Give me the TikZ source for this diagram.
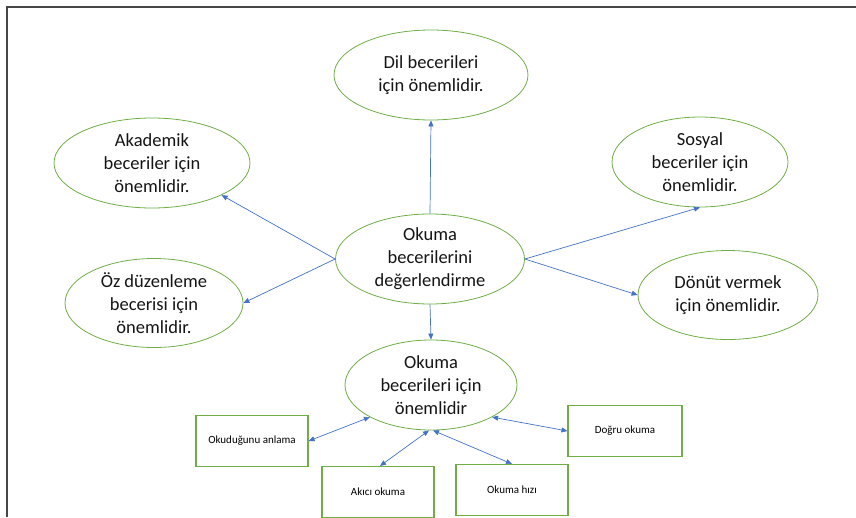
\documentclass[tikz,border=0pt]{standalone}
\usepackage{fontspec}
\setmainfont{Carlito}
\usetikzlibrary{shapes.geometric, arrows.meta}
\definecolor{officegreen}{RGB}{112,173,71}
\definecolor{officeblue}{RGB}{68,114,196}
\definecolor{framegray}{RGB}{70,70,70}

\begin{document}
\begin{tikzpicture}[x=1pt, y=-1pt,
      bubble/.style={ellipse, draw=officegreen, line width=0.8pt, inner sep=0pt,
        align=center, text=black!92, font=\fontsize{18.5}{23}\selectfont},
      smallbox/.style={rectangle, draw=officegreen, line width=1.1pt, inner sep=0pt,
        minimum width=112pt, minimum height=51pt, font=\fontsize{11}{13}\selectfont},
      oneway/.style={draw=officeblue, line width=0.7pt, -{Triangle[length=6pt,width=5pt]}},
      twoway/.style={draw=officeblue, line width=0.7pt,
        {Triangle[length=6pt,width=5pt]}-{Triangle[length=6pt,width=5pt]}}]

      \useasboundingbox (0,0) rectangle (856,517);
      \draw[framegray, line width=1.4pt] (7,517) -- (7,7) -- (856,7);

      % centre and the reasons round it
      \node[bubble, minimum width=189pt, minimum height=90pt] (center) at (430,259)
        {Okuma\\becerilerini\\değerlendirme};
      \node[bubble, minimum width=194pt, minimum height=90pt] (dil) at (431,75)
        {Dil becerileri\\için önemlidir.};
      \node[bubble, minimum width=196pt, minimum height=90pt] (akad) at (152,163)
        {Akademik\\beceriler için\\önemlidir.};
      \node[bubble, minimum width=178pt, minimum height=89pt] (oz) at (154,303)
        {Öz düzenleme\\becerisi için\\önemlidir.};
      \node[bubble, minimum width=176pt, minimum height=90pt] (sosyal) at (700,162)
        {Sosyal\\beceriler için\\önemlidir.};
      \node[bubble, minimum width=180pt, minimum height=89pt] (donut) at (728,295)
        {Dönüt vermek\\için önemlidir.};
      \node[bubble, minimum width=172pt, minimum height=90pt] (okb) at (431,385)
        {Okuma\\becerileri için\\önemlidir};

      % reading skills
      \node[smallbox] (anlama) at (252,441) {Okuduğunu anlama};
      \node[smallbox] (akici) at (378,492) {Akıcı okuma};
      \node[smallbox] (hiz) at (512,490) {Okuma hızı};
      \node[smallbox, minimum width=114pt] (dogru) at (625,431) {Doğru okuma};

      \draw[oneway] (center.north) -- (dil.south);
      \draw[oneway] (center.west) -- (akad.south east);
      \draw[oneway] (center.west) -- (oz.east);
      \draw[oneway] (center.east) -- (sosyal.south);
      \draw[oneway] (center.east) -- (donut.west);
      \draw[oneway] (center.south) -- (okb.north);

      \draw[twoway] (okb.south west) -- (anlama.east);
      \draw[twoway] ([xshift=-2pt]okb.south) -- ([xshift=2pt]akici.north);
      \draw[twoway] ([xshift=2pt]okb.south) -- (hiz.north);
      \draw[twoway] (okb.south east) -- (dogru.west);
    \end{tikzpicture}
\end{document}
